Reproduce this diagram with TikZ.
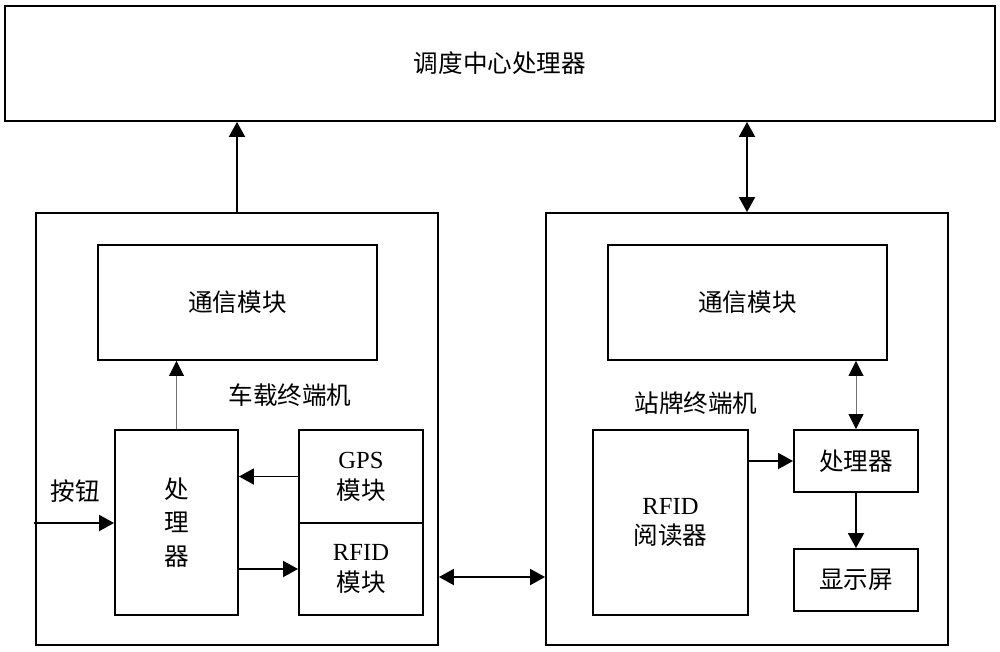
\documentclass[tikz,border=0pt]{standalone}
\usepackage{fontspec}
\setmainfont{Liberation Serif}
\newfontfamily\cjk{Noto Sans CJK SC}
\newfontfamily\latf{Liberation Serif}
\usetikzlibrary{arrows.meta}

\tikzset{
  blk/.style={draw,line width=1.1pt,fill=white,inner sep=0pt,align=center,
    font=\cjk\fontsize{14}{17.6}\selectfont},
  lbl/.style={inner sep=0pt,font=\cjk\fontsize{14}{17.6}\selectfont},
  arr/.style={line width=1.1pt,-{Triangle[length=0.3cm,width=0.32cm]}},
  darr/.style={line width=1.1pt,{Triangle[length=0.3cm,width=0.32cm]}-{Triangle[length=0.3cm,width=0.32cm]}},
  thinarr/.style={line width=0.5pt,draw=black!55,-{Triangle[length=0.3cm,width=0.3cm,color=black]}},
  thindarr/.style={line width=0.5pt,draw=black!55,{Triangle[length=0.3cm,width=0.3cm,color=black]}-{Triangle[length=0.3cm,width=0.3cm,color=black]}}
}

\begin{document}
\begin{tikzpicture}[x=0.02cm,y=-0.02cm]
\useasboundingbox (0,0) rectangle (1000,652);
% dispatch centre
\node[blk,minimum width=19.8cm,minimum height=2.3cm] (ctr) at (500,63.5) {调度中心处理器};
% vehicle terminal
\node[blk,minimum width=8.04cm,minimum height=8.64cm] (lout) at (237,429) {};
\node[blk,minimum width=5.58cm,minimum height=2.3cm] (lcomm) at (237.5,302.5) {通信模块};
\node[lbl] (lname) at (290,395) {车载终端机};
\node[blk,minimum width=2.46cm,minimum height=3.7cm] (lproc) at (176.5,522.5) {处\\[1.5pt]理\\[1.5pt]器};
\node[blk,minimum width=2.48cm,minimum height=1.86cm] (gps) at (361,476.5) {{\latf GPS}\\模块};
\node[blk,minimum width=2.48cm,minimum height=1.84cm] (rfid) at (361,569) {{\latf RFID}\\模块};
\node[lbl] (btnlbl) at (75,491) {按钮};
\coordinate (btn) at (34,523);
% stop terminal
\node[blk,minimum width=8.04cm,minimum height=8.64cm] (rout) at (747,429) {};
\node[blk,minimum width=5.58cm,minimum height=2.3cm] (rcomm) at (747.5,302.5) {通信模块};
\node[lbl] (rname) at (696,403) {站牌终端机};
\node[blk,minimum width=3.1cm,minimum height=3.7cm] (reader) at (670.5,522.5) {{\latf RFID}\\阅读器};
\node[blk,minimum width=2.48cm,minimum height=1.24cm] (rproc) at (856,461) {处理器};
\node[blk,minimum width=2.48cm,minimum height=1.24cm] (disp) at (856,580) {显示屏};
\coordinate (lk) at (0,577);

\draw[arr] (lout.north) -- (lout.north |- ctr.south);
\draw[darr] (rout.north) -- (rout.north |- ctr.south);
\draw[thinarr] (lproc.north) -- (lproc.north |- lcomm.south);
\draw[arr] (gps.west) -- (gps.west -| lproc.east);
\draw[arr] (rfid.west -| lproc.east) -- (rfid.west);
\draw[arr] (btn) -- (btn -| lproc.west);
\draw[darr] (lk -| lout.east) -- (lk -| rout.west);
\draw[thindarr] (rproc.north) -- (rproc.north |- rcomm.south);
\draw[arr] (reader.east |- rproc.west) -- (rproc.west);
\draw[arr] (rproc.south) -- (disp.north);
\end{tikzpicture}
\end{document}
